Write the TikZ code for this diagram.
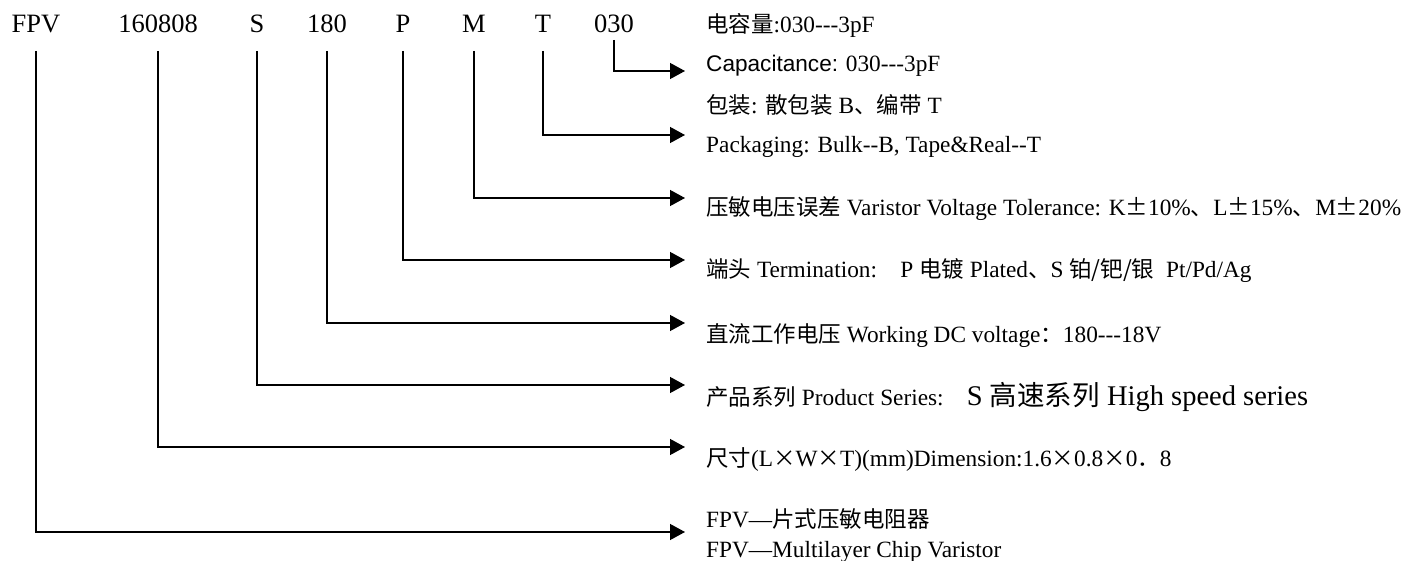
\documentclass[tikz,border=0pt]{standalone}
\usepackage{fontspec}
\setmainfont{Liberation Serif}[Ligatures=TeXOff]
\newfontfamily\cjk{Noto Sans CJK SC}[Ligatures=TeXOff,Scale=0.965]
\newfontfamily\cjkfw{Noto Sans CJK SC}[RawFeature=+fwid,Scale=0.965]
\newfontfamily\arial{Liberation Sans}[Scale=0.97]
\usepackage{tikz}
\usetikzlibrary{arrows.meta}
\newcommand{\plmn}{{\cjkfw ±}}
\newcommand{\tms}{{\cjkfw ×}}
\tikzset{
  >=stealth,
  % --- nodes
  code/.style = {anchor=base, inner sep=0pt, font=\fontsize{26.5}{30}\selectfont},
  desc/.style = {anchor=base west, inner sep=0pt, font=\fontsize{23.3}{27}\selectfont},
  % --- edges
  e/.style    = {-{Triangle[length=15pt,width=16pt]}, line width=1.3pt, draw=black},
}
\begin{document}
\begin{tikzpicture}[x=1pt,y=-1pt]
  \useasboundingbox (0,0) rectangle (1413,561);

  % --- part number
  \node[code] (cfpv) at (36,33)  {FPV};
  \node[code] (c160) at (158,33) {160808};
  \node[code] (cs)   at (257,33) {S};
  \node[code] (c180) at (327,33) {180};
  \node[code] (cp)   at (403,33) {P};
  \node[code] (cm)   at (474,33) {M};
  \node[code] (ct)   at (543,33) {T};
  \node[code] (c030) at (614,33) {030};

  % --- arrow ends
  \coordinate (a030) at (685,71);
  \coordinate (at)   at (685,135);
  \coordinate (am)   at (685,198);
  \coordinate (ap)   at (685,260);
  \coordinate (a180) at (685,323);
  \coordinate (as)   at (685,385);
  \coordinate (a160) at (685,447);
  \coordinate (afpv) at (685,532);

  % --- descriptions
  \node[desc] (cap1)  at (706,33)  {{\cjk 电容量}:030---3pF};
  \node[desc] (cap2)  at (706,72)  {{\arial Capacitance:} 030---3pF};
  \node[desc] (pack1) at (706,114) {{\cjk 包装}: {\cjk 散包装} B{\cjk 、编带} T};
  \node[desc] (pack2) at (706,153) {Packaging: Bulk--B, Tape\&Real--T};
  \node[desc] (tol)   at (706,216) {{\cjk 压敏电压误差} Varistor Voltage Tolerance: K\plmn10\%{\cjk 、}L\plmn15\%{\cjk 、}M\plmn20\%};
  \node[desc] (term)  at (706,278) {{\cjk 端头} Termination:\quad P {\cjk 电镀} Plated{\cjk 、}S {\cjk 铂/钯/银}\ \ Pt/Pd/Ag};
  \node[desc] (dcv)   at (706,342) {{\cjk 直流工作电压} Working DC voltage{\cjk ：}180---18V};
  \node[desc] (ser)   at (706,405) {{\cjk 产品系列} Product Series:\quad {\fontsize{28.5}{32}\selectfont S {\cjk 高速系列} High speed series}};
  \node[desc] (dim)   at (706,466) {{\cjk 尺寸}(L\tms W\tms T)(mm)Dimension:1.6\tms0.8\tms0{\cjk ．}8};
  \node[desc] (fpv1)  at (706,527) {FPV—{\cjk 片式压敏电阻器}};
  \node[desc] (fpv2)  at (706,557) {FPV—Multilayer Chip Varistor};

  \draw[e] ([yshift=-7pt]c030.base) |- (a030);
  \draw[e] ([yshift=-18pt]ct.base) |- (at);   \draw[e] ([yshift=-18pt]cm.base) |- (am);
  \draw[e] ([yshift=-18pt]cp.base) |- (ap);   \draw[e] ([yshift=-18pt]c180.base) |- (a180);
  \draw[e] ([yshift=-18pt]cs.base) |- (as);   \draw[e] ([yshift=-18pt]c160.base) |- (a160);
  \draw[e] ([yshift=-18pt]cfpv.base) |- (afpv);
\end{tikzpicture}
\end{document}
